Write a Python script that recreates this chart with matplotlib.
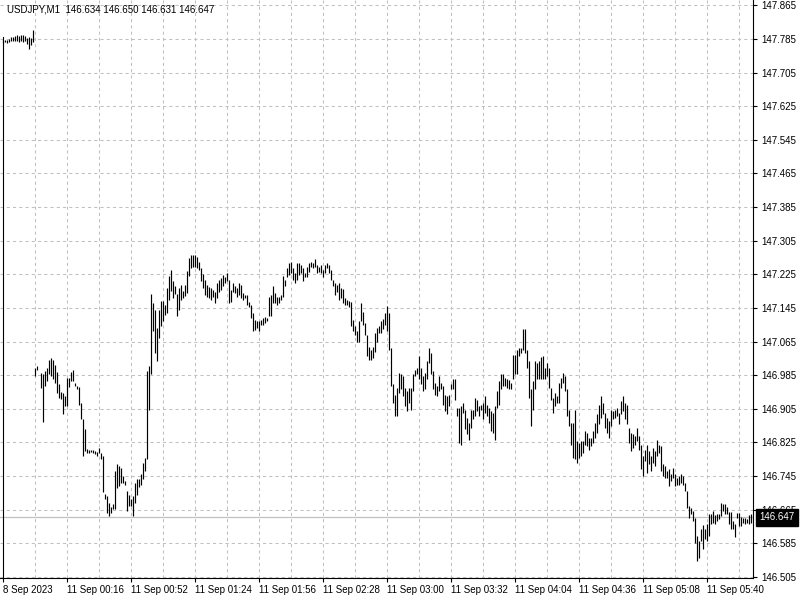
import numpy as np
import matplotlib
matplotlib.use("Agg")
import matplotlib.pyplot as plt
import matplotlib.transforms as mtransforms

plt.rcParams['font.family'] = ['Liberation Sans', 'DejaVu Sans']

# USDJPY M1 bars, high / low per minute (close of 8 Sep, then 11 Sep morning)
fri_high = [147.782, 147.782, 147.783, 147.785, 147.790, 147.789, 147.793, 147.794,
            147.792, 147.795, 147.794, 147.791, 147.788, 147.790, 147.786, 147.805]
fri_low = [147.776, 147.777, 147.776, 147.777, 147.779, 147.780, 147.779, 147.781,
           147.778, 147.780, 147.777, 147.780, 147.772, 147.762, 147.770, 147.777]

open_high = [147.002, 147.006, 146.989, 146.990, 146.987, 146.994, 147.002, 147.022,
             147.026, 147.022, 147.010, 146.992, 146.963, 146.945, 146.943, 146.935,
             146.979, 146.979, 146.992, 146.997, 146.967, 146.959, 146.957, 146.918,
             146.881, 146.856, 146.810, 146.808, 146.807, 146.807, 146.805, 146.802,
             146.812, 146.799, 146.793, 146.703, 146.697, 146.682, 146.672, 146.678,
             146.757, 146.773, 146.769, 146.765, 146.745, 146.733, 146.709, 146.701,
             146.690, 146.697, 146.729, 146.737, 146.739, 146.749, 146.777, 146.789,
             146.994, 147.008, 147.177, 147.157, 147.141, 147.097, 147.141, 147.161,
             147.161, 147.153, 147.192, 147.220, 147.236, 147.208, 147.196, 147.177,
             147.192, 147.200, 147.185, 147.200, 147.232, 147.264]
open_low = [146.983, 146.997, 146.987, 146.955, 146.873, 146.960, 146.971, 146.989,
            146.984, 146.975, 146.967, 146.943, 146.931, 146.929, 146.892, 146.911,
            146.911, 146.957, 146.971, 146.971, 146.960, 146.951, 146.913, 146.880,
            146.793, 146.805, 146.800, 146.800, 146.802, 146.800, 146.797, 146.793,
            146.799, 146.785, 146.706, 146.691, 146.658, 146.650, 146.658, 146.667,
            146.667, 146.717, 146.721, 146.729, 146.729, 146.725, 146.662, 146.674,
            146.674, 146.650, 146.682, 146.701, 146.720, 146.725, 146.737, 146.757,
            146.786, 146.903, 146.987, 147.090, 147.038, 147.018, 147.074, 147.101,
            147.113, 147.129, 147.133, 147.165, 147.185, 147.169, 147.177, 147.125,
            147.141, 147.165, 147.169, 147.173, 147.181, 147.220]

mid_high = [147.271, 147.271, 147.271, 147.267, 147.255, 147.239, 147.226, 147.212,
            147.200, 147.194, 147.192, 147.188, 147.184, 147.204, 147.212, 147.216,
            147.223, 147.219, 147.229, 147.212, 147.188, 147.204, 147.196, 147.192,
            147.204, 147.200, 147.180, 147.176, 147.176, 147.160, 147.152, 147.132,
            147.117, 147.113, 147.113, 147.117, 147.120, 147.124, 147.120, 147.172,
            147.176, 147.196, 147.180, 147.172, 147.172, 147.176, 147.221, 147.212,
            147.239, 147.253, 147.255, 147.239, 147.227, 147.251, 147.251, 147.247,
            147.239, 147.227, 147.243, 147.251, 147.255, 147.251, 147.261, 147.247,
            147.243, 147.247, 147.235, 147.247, 147.251, 147.247, 147.235, 147.212,
            147.204, 147.200, 147.204, 147.192, 147.189, 147.168, 147.164, 147.162,
            147.160, 147.117, 147.101, 147.089, 147.115, 147.156, 147.136, 147.109,
            147.081, 147.053, 147.045, 147.053, 147.085, 147.097, 147.101]
mid_low = [147.239, 147.243, 147.242, 147.239, 147.235, 147.208, 147.192, 147.176,
           147.172, 147.168, 147.164, 147.172, 147.156, 147.168, 147.184, 147.188,
           147.196, 147.204, 147.208, 147.156, 147.160, 147.184, 147.180, 147.172,
           147.176, 147.168, 147.164, 147.168, 147.152, 147.148, 147.120, 147.089,
           147.093, 147.097, 147.089, 147.105, 147.105, 147.109, 147.113, 147.126,
           147.126, 147.156, 147.156, 147.152, 147.156, 147.164, 147.172, 147.196,
           147.219, 147.223, 147.227, 147.212, 147.204, 147.212, 147.223, 147.227,
           147.210, 147.219, 147.219, 147.231, 147.243, 147.239, 147.242, 147.227,
           147.231, 147.227, 147.219, 147.227, 147.239, 147.227, 147.212, 147.196,
           147.176, 147.184, 147.164, 147.168, 147.156, 147.152, 147.152, 147.148,
           147.101, 147.089, 147.081, 147.065, 147.065, 147.113, 147.105, 147.081,
           147.031, 147.021, 147.021, 147.025, 147.041, 147.063, 147.085]

late_high = [147.113, 147.119, 147.133, 147.149, 147.133, 147.050, 146.963, 146.939,
             146.955, 146.991, 146.987, 146.983, 146.955, 146.947, 146.955, 146.955,
             146.987, 146.998, 147.002, 147.030, 147.002, 146.983, 146.991, 147.018,
             147.050, 147.038, 146.995, 146.967, 146.959, 146.983, 146.967, 146.959,
             146.939, 146.935, 146.939, 146.963, 146.975, 146.975, 146.907, 146.907,
             146.911, 146.919, 146.903, 146.884, 146.872, 146.903, 146.903, 146.931,
             146.927, 146.911, 146.915, 146.919, 146.935, 146.913, 146.907, 146.899,
             146.895, 146.911, 146.947, 146.971, 146.987, 146.987, 146.979, 146.975,
             146.973, 146.967, 147.034, 147.034, 147.046, 147.050, 147.050, 147.095,
             147.095, 147.046, 147.018, 146.951, 146.971, 147.018, 147.014, 147.018,
             147.028, 147.030, 147.002, 147.014, 147.002, 146.955, 146.931, 146.943,
             146.935, 146.967, 146.979, 146.991, 146.983, 146.951, 146.903]
late_low = [147.086, 147.094, 147.105, 147.090, 147.046, 146.959, 146.919, 146.888,
            146.888, 146.943, 146.951, 146.935, 146.911, 146.900, 146.919, 146.903,
            146.947, 146.983, 146.987, 146.975, 146.963, 146.947, 146.951, 146.975,
            147.014, 146.987, 146.951, 146.939, 146.935, 146.947, 146.951, 146.913,
            146.900, 146.892, 146.911, 146.951, 146.951, 146.927, 146.888, 146.824,
            146.820, 146.896, 146.856, 146.844, 146.832, 146.860, 146.880, 146.888,
            146.900, 146.888, 146.903, 146.880, 146.896, 146.888, 146.872, 146.852,
            146.848, 146.832, 146.907, 146.915, 146.951, 146.959, 146.959, 146.955,
            146.951, 146.951, 146.975, 146.987, 146.987, 147.030, 147.038, 147.046,
            147.038, 147.002, 146.931, 146.864, 146.903, 146.951, 146.975, 146.975,
            146.976, 146.975, 146.975, 146.983, 146.955, 146.927, 146.896, 146.911,
            146.919, 146.919, 146.955, 146.967, 146.947, 146.888, 146.864]

end_high = [146.872, 146.872, 146.903, 146.828, 146.824, 146.828, 146.828, 146.852,
            146.848, 146.836, 146.836, 146.852, 146.872, 146.892, 146.915, 146.935,
            146.919, 146.895, 146.884, 146.876, 146.903, 146.899, 146.903, 146.907,
            146.895, 146.923, 146.935, 146.919, 146.915, 146.860, 146.848, 146.844,
            146.840, 146.860, 146.840, 146.820, 146.793, 146.808, 146.820, 146.804,
            146.793, 146.812, 146.804, 146.832, 146.820, 146.816, 146.773, 146.769,
            146.757, 146.761, 146.749, 146.765, 146.749, 146.741, 146.745, 146.749,
            146.745, 146.728, 146.709, 146.674, 146.670, 146.662, 146.646, 146.602,
            146.591, 146.618, 146.628, 146.618, 146.630, 146.654, 146.654, 146.662,
            146.652, 146.654, 146.654, 146.682, 146.678, 146.678, 146.672, 146.660,
            146.660, 146.638, 146.630, 146.658, 146.658, 146.648, 146.646, 146.646,
            146.642, 146.652, 146.654]
end_low = [146.820, 146.789, 146.785, 146.777, 146.789, 146.793, 146.800, 146.820,
           146.816, 146.808, 146.816, 146.824, 146.836, 146.848, 146.868, 146.884,
           146.892, 146.860, 146.848, 146.836, 146.864, 146.880, 146.884, 146.888,
           146.868, 146.892, 146.899, 146.880, 146.868, 146.824, 146.804, 146.812,
           146.820, 146.828, 146.808, 146.761, 146.745, 146.781, 146.753, 146.773,
           146.757, 146.777, 146.769, 146.793, 146.800, 146.757, 146.745, 146.741,
           146.741, 146.721, 146.733, 146.741, 146.721, 146.725, 146.725, 146.729,
           146.725, 146.709, 146.670, 146.646, 146.654, 146.638, 146.587, 146.543,
           146.551, 146.591, 146.571, 146.595, 146.591, 146.602, 146.630, 146.634,
           146.630, 146.638, 146.642, 146.650, 146.662, 146.656, 146.654, 146.630,
           146.618, 146.618, 146.599, 146.646, 146.626, 146.626, 146.634, 146.630,
           146.634, 146.630, 146.634]

bar_high = np.array(fri_high + open_high + mid_high + late_high + end_high)
bar_low = np.array(fri_low + open_low + mid_low + late_low + end_low)
bars = np.arange(len(bar_high))

time_ticks = [0, 32, 64, 96, 128, 160, 192, 224, 256, 288, 320, 352]
time_labels = ["8 Sep 2023", "11 Sep 00:16", "11 Sep 00:52", "11 Sep 01:24",
               "11 Sep 01:56", "11 Sep 02:28", "11 Sep 03:00", "11 Sep 03:32",
               "11 Sep 04:04", "11 Sep 04:36", "11 Sep 05:08", "11 Sep 05:40"]
price_ticks = [146.505, 146.585, 146.665, 146.745, 146.825, 146.905, 146.985, 147.065,
               147.145, 147.225, 147.305, 147.385, 147.465, 147.545, 147.625, 147.705,
               147.785, 147.865]
last_price = 146.647
header = "USDJPY,M1  146.634 146.650 146.631 146.647"

grid_col = '#c0c0c0'

fig = plt.figure(figsize=(8, 6), dpi=100)
ax = fig.add_axes([0, 22 / 600, 753 / 800, 578 / 600])
ax.set_xlim(-1.65, 374.85)
ax.set_ylim(146.5026, 147.8775)

# dashed grid: verticals every 16 bars, horizontals at price labels
for gx in range(16, len(bars), 16):
    ax.axvline(gx, color=grid_col, lw=0.75, ls=(0, (3, 3)), zorder=0)
for gy in price_ticks:
    ax.axhline(gy, color=grid_col, lw=0.75, ls=(0, (3, 3)), zorder=0)

ax.axhline(last_price, color=grid_col, lw=0.9, zorder=1)

ax.vlines(bars, bar_low, bar_high, color='black', lw=0.85, zorder=2)

for s in ['top']:
    ax.spines[s].set_visible(False)
ax.spines['left'].set_bounds(146.5026, 147.79)
ax.spines['left'].set_position(('data', -0.35))
for s in ['left', 'right', 'bottom']:
    ax.spines[s].set_linewidth(0.8)
    ax.spines[s].set_color('black')

ax.yaxis.tick_right()
ax.set_yticks(price_ticks)
ax.set_yticklabels(['%.3f' % p for p in price_ticks])
ax.tick_params(axis='y', direction='out', length=3, width=0.8, pad=3, labelsize=7)

ax.set_xticks(time_ticks)
ax.set_xticklabels(time_labels, ha='left')
ax.tick_params(axis='x', direction='out', length=3, width=0.8, pad=2, labelsize=7)
for lab in ax.get_xticklabels():
    lab.set_x(lab.get_position()[0])

# current price tag
trans = mtransforms.blended_transform_factory(ax.transAxes, ax.transData)
ax.text(1.0 + 6 / 753, last_price, '%.3f' % last_price, transform=trans,
        ha='left', va='center', color='white', fontsize=7, zorder=5,
        bbox=dict(boxstyle='square,pad=0.35', fc='black', ec='black'))

fig.text(7 / 800, 1 - 9 / 600, header, fontsize=7, va='center', ha='left')

fig.savefig('out.png', dpi=100)
